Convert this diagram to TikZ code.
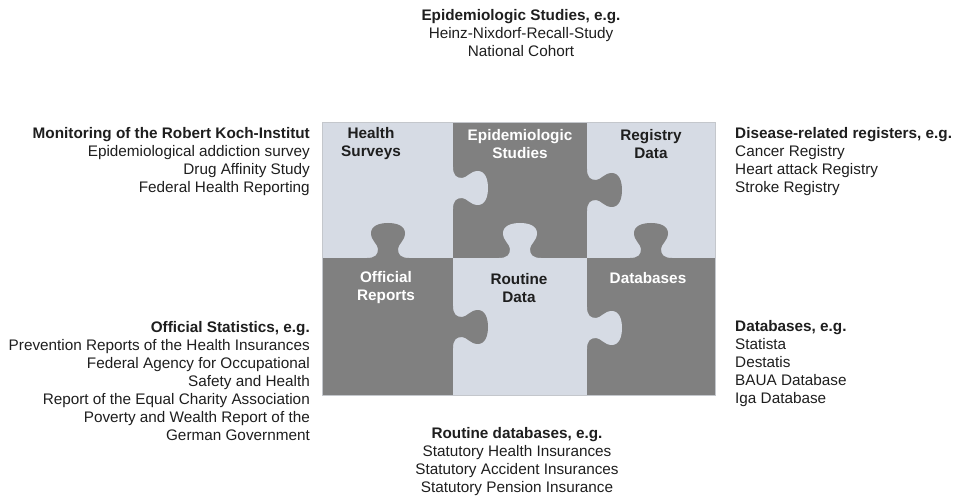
\documentclass[tikz,border=0pt]{standalone}
\usepackage{fontspec}
\setmainfont{Liberation Sans}
\definecolor{lightpiece}{HTML}{D6DBE4}
\definecolor{darkpiece}{HTML}{808080}
\definecolor{rim}{HTML}{C4C7CC}
\definecolor{txt}{HTML}{1E1E1E}
\tikzset{
  % one jigsaw tab, pointing along local y
  knob/.pic={
    \path[pic actions] (-21,-2) -- (-21,0)
      .. controls (-13,0) and (-10,3) .. (-10,9)
      .. controls (-10,14) and (-17,17) .. (-17,25)
      .. controls (-17,32) and (-9,35) .. (0,35)
      .. controls (9,35) and (17,32) .. (17,25)
      .. controls (17,17) and (10,14) .. (10,9)
      .. controls (10,3) and (13,0) .. (21,0)
      -- (21,-2) -- cycle;
  },
  piecelabel/.style={font=\fontsize{15.3}{18}\selectfont\bfseries, align=center, inner sep=0pt},
  listing/.style={font=\fontsize{15.3}{18}\selectfont, text=txt, inner sep=0pt},
}
\begin{document}
\begin{tikzpicture}[x=1pt,y=-1pt]
  \useasboundingbox (0,0) rectangle (959,497);

  % the six pieces
  \fill[lightpiece] (322,122) rectangle (715,395);
  \fill[darkpiece] (453,122) rectangle (587,258);
  \fill[darkpiece] (322,258) rectangle (453,395);
  \fill[darkpiece] (587,258) rectangle (715,395);

  % tabs
  \pic[fill=darkpiece, rotate=180] at (388,258) {knob};
  \pic[fill=lightpiece, rotate=90] at (453,188) {knob};
  \pic[fill=darkpiece, rotate=90] at (587,190) {knob};
  \pic[fill=lightpiece, rotate=180] at (520,258) {knob};
  \pic[fill=darkpiece, rotate=180] at (651,258) {knob};
  \pic[fill=darkpiece, rotate=90] at (453,327) {knob};
  \pic[fill=lightpiece, rotate=90] at (587,328) {knob};
  \draw[rim, line width=0.8pt] (322,122) rectangle (715,395);

  % piece names
  \node[piecelabel, text=txt] (surveys) at (371,144) {Health\\Surveys};
  \node[piecelabel, text=white] (studies) at (520,144) {Epidemiologic\\Studies};
  \node[piecelabel, text=txt] (registry) at (651,144) {Registry\\Data};
  \node[piecelabel, text=white] (reports) at (386,288) {Official\\Reports};
  \node[piecelabel, text=txt] (routine) at (519,288) {Routine\\Data};
  \node[piecelabel, text=white] (databases) at (648,278) {Databases};

  % examples around the puzzle
  \node[listing, align=center] (epi) at (521,33)
    {\textbf{Epidemiologic Studies, e.g.}\\Heinz-Nixdorf-Recall-Study\\National Cohort};
  \node[listing, align=right, anchor=east] (rki) at (310,162)
    {\textbf{Monitoring of the Robert Koch-Institut}\\Epidemiological addiction survey\\Drug Affinity Study\\Federal Health Reporting};
  \node[listing, align=left, anchor=west] (disease) at (735,162)
    {\textbf{Disease-related registers, e.g.}\\Cancer Registry\\Heart attack Registry\\Stroke Registry};
  \node[listing, align=right, anchor=east] (stats) at (310,381)
    {\textbf{Official Statistics, e.g.}\\Prevention Reports of the Health Insurances\\Federal Agency for Occupational\\Safety and Health\\Report of the Equal Charity Association\\Poverty and Wealth Report of the\\German Government};
  \node[listing, align=left, anchor=west] (dbs) at (735,364)
    {\textbf{Databases, e.g.}\\Statista\\Destatis\\BAUA Database\\Iga Database};
  \node[listing, align=center] (statutory) at (517,462)
    {\textbf{Routine databases, e.g.}\\Statutory Health Insurances\\Statutory Accident Insurances\\Statutory Pension Insurance};
\end{tikzpicture}
\end{document}
